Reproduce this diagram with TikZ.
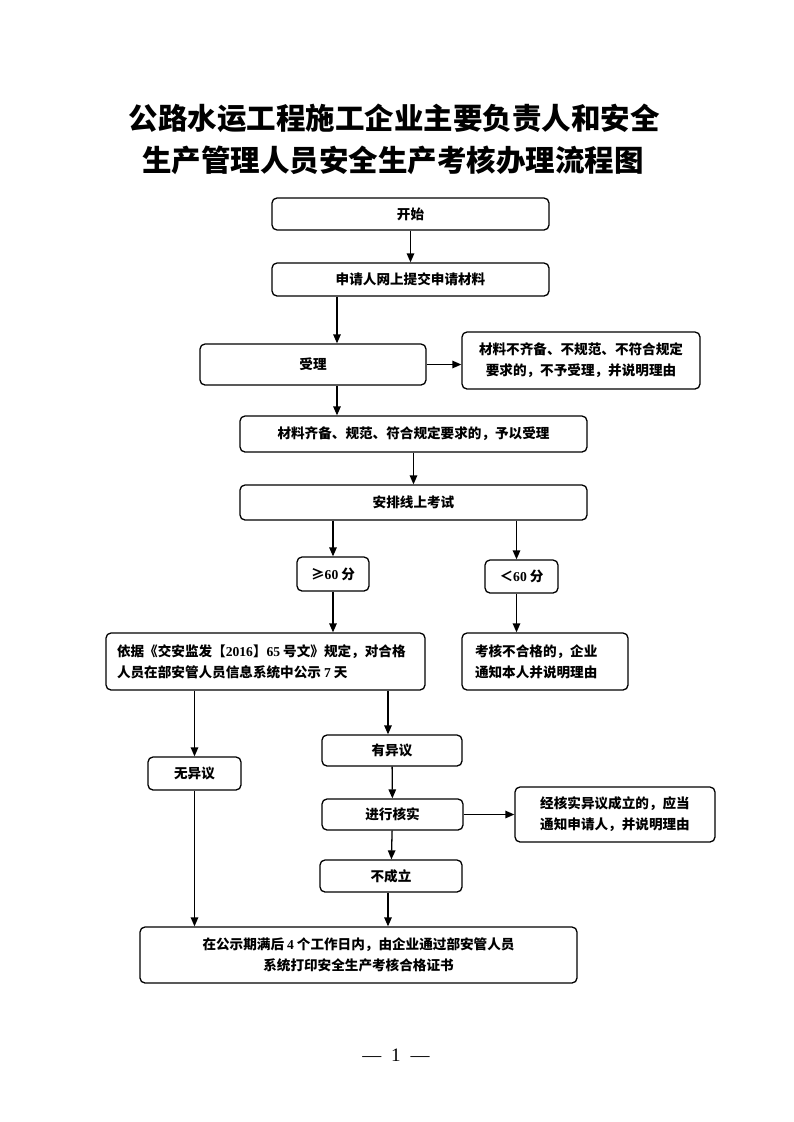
\documentclass[tikz,border=0pt]{standalone}
\usepackage{fontspec}
\setmainfont{Liberation Serif}
\newfontfamily\cjk{Noto Sans CJK SC}
\usetikzlibrary{arrows.meta}
\newcommand{\dg}[1]{{\rmfamily\bfseries #1}}
\newcommand{\gapsp}{\hspace{3pt}}
\begin{document}
\begin{tikzpicture}[x=1pt,y=-1pt,
  box/.style={draw, line width=1.3pt, rounded corners=5pt, inner sep=0pt,
    font=\cjk\bfseries\fontsize{13.6}{21}\selectfont, align=center},
  lbox/.style={box, align=left, inner ysep=0pt},
  arr/.style={-{Triangle[length=9pt,width=7.5pt]}, line width=1.3pt},
  title/.style={font=\cjk\bfseries\fontsize{29.5}{34}\selectfont}]
\fill[white] (0,0) rectangle (793,1122);
\useasboundingbox (0,0) rectangle (793,1122);
% title
\node[title] (t1) at (394,118) {公路水运工程施工企业主要负责人和安全};
\node[title] (t2) at (393,160) {生产管理人员安全生产考核办理流程图};
% boxes
\node[box, minimum width=277, minimum height=32] (start) at (410.5,214) {开始};
\node[box, minimum width=277, minimum height=33] (submit) at (410.5,279.5) {申请人网上提交申请材料};
\node[box, minimum width=226, minimum height=41] (accept) at (313,364.5) {受理};
\node[box, minimum width=238, minimum height=57] (reject) at (581,360.5) {材料不齐备、不规范、不符合规定\\要求的，不予受理，并说明理由};
\node[box, minimum width=347, minimum height=36] (ok) at (413.5,434) {材料齐备、规范、符合规定要求的，予以受理};
\node[box, minimum width=347, minimum height=35] (exam) at (413.5,502.5) {安排线上考试};
\node[box, minimum width=72, minimum height=34] (pass) at (333,574) {≥\dg{60}\gapsp 分};
\node[box, minimum width=73, minimum height=33] (fail) at (521.5,576.5) {＜\dg{60}\gapsp 分};
\node[lbox, text width=297, inner xsep=11pt, minimum height=57] (pub) at (265.5,661.5) {依据《交安监发【\dg{2016}】\dg{65}\gapsp 号文》规定，对合格\\人员在部安管人员信息系统中公示\gapsp\dg{7}\gapsp 天};
\node[lbox, text width=140, inner xsep=13pt, minimum height=57] (failnote) at (545,661.5) {考核不合格的，企业\\通知本人并说明理由};
\node[box, minimum width=93, minimum height=33] (noobj) at (194.5,773.5) {无异议};
\node[box, minimum width=140, minimum height=31] (obj) at (392,750.5) {有异议};
\node[box, minimum width=141, minimum height=31] (verify) at (392.5,814.5) {进行核实};
\node[box, minimum width=200, minimum height=55] (objok) at (615,814.5) {经核实异议成立的，应当\\通知申请人，并说明理由};
\node[box, minimum width=142, minimum height=32] (notest) at (391,876) {不成立};
\node[box, minimum width=437, minimum height=56] (final) at (358.5,955) {在公示期满后\gapsp\dg{4}\gapsp 个工作日内，由企业通过部安管人员\\系统打印安全生产考核合格证书};
% page number
\node[font=\rmfamily\fontsize{19}{22}\selectfont] (pg) at (396,1055) {—\hspace{10pt}1\hspace{10pt}—};
% connectors
\draw[arr] (start) -- (submit);
\draw[arr] ([xshift=-73.5]submit.south) -- ([xshift=24]accept.north);
\draw[arr] (accept.east) -- (accept.east -| reject.west);
\draw[arr] ([xshift=24]accept.south) -- ([xshift=24]accept.south |- ok.north);
\draw[arr] (ok) -- (exam);
\draw[arr] (exam.south -| pass.north) -- (pass.north);
\draw[arr] ([xshift=-5]exam.south -| fail.north) -- ([xshift=-5]fail.north);
\draw[arr] (pass.south) -- (pass.south |- pub.north);
\draw[arr] ([xshift=-5]fail.south) -- ([xshift=-5]fail.south |- failnote.north);
\draw[arr] (noobj.north |- pub.south) -- (noobj.north);
\draw[arr] ([xshift=-4]obj.north |- pub.south) -- ([xshift=-4]obj.north);
\draw[arr] (obj) -- (verify);
\draw[arr] (verify.east) -- (verify.east -| objok.west);
\draw[arr] (verify) -- (notest);
\draw[arr] (noobj.south) -- (noobj.south |- final.north);
\draw[arr] ([xshift=-3]notest.south) -- ([xshift=-3]notest.south |- final.north);
\end{tikzpicture}
\end{document}
